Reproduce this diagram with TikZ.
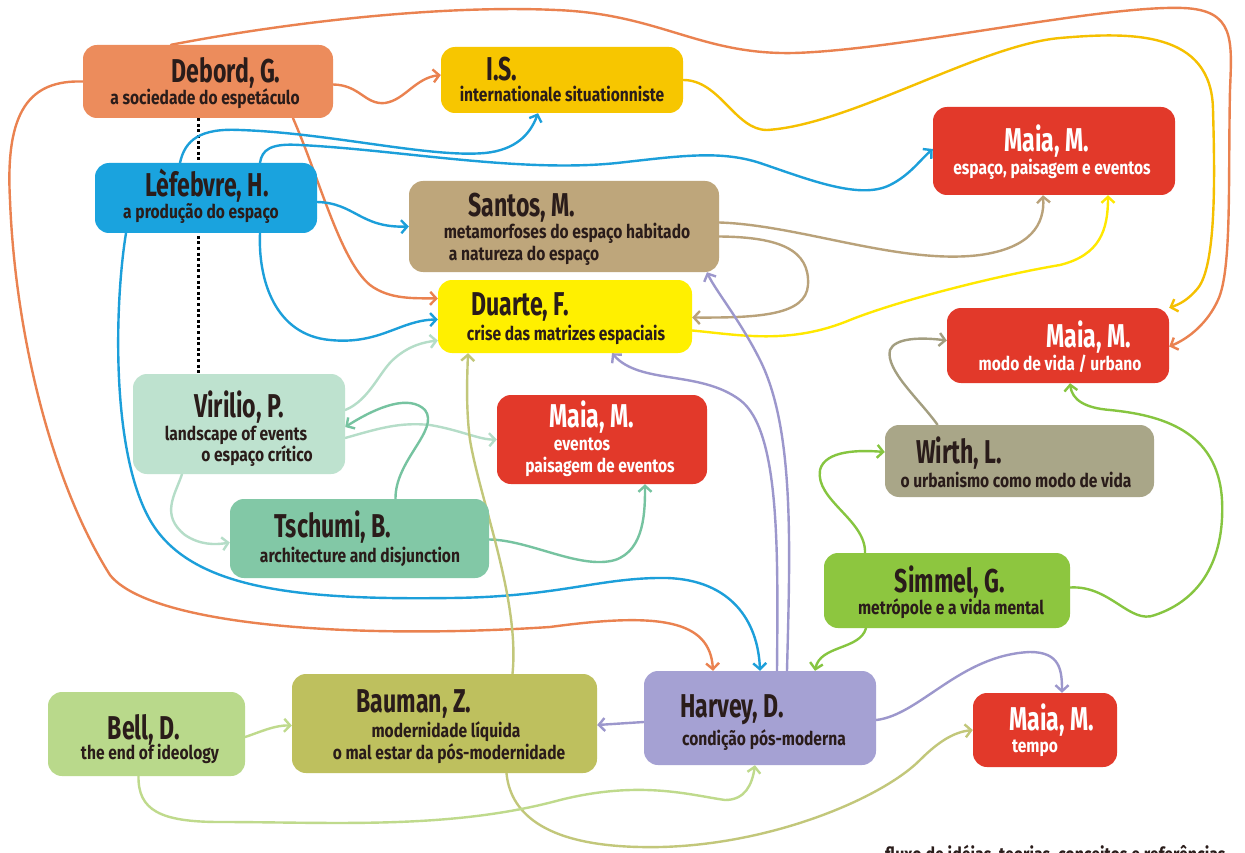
\documentclass[tikz,border=0pt]{standalone}
\usepackage{fontspec}
\setmainfont{Fira Sans}
\newfontfamily\titlefont{Fira Sans}[FakeStretch=0.70]
\newfontfamily\subfont{Fira Sans}[FakeStretch=0.82]
\usetikzlibrary{arrows.meta}
\definecolor{ink}{HTML}{2A1C1A}
\definecolor{cDebord}{HTML}{EC8C5C}
\definecolor{lDebord}{HTML}{EA8250}
\definecolor{cIS}{HTML}{F7C600}
\definecolor{lIS}{HTML}{F5C000}
\definecolor{cRed}{HTML}{E2392A}
\definecolor{cBlue}{HTML}{1AA3DE}
\definecolor{lBlue}{HTML}{1C9FDA}
\definecolor{cTan}{HTML}{BEA67B}
\definecolor{lTan}{HTML}{B9A27A}
\definecolor{cYellow}{HTML}{FFF000}
\definecolor{lYellow}{HTML}{FFE800}
\definecolor{cVir}{HTML}{BEE2CF}
\definecolor{lVir}{HTML}{B5DDC8}
\definecolor{cTsch}{HTML}{82C8A6}
\definecolor{lTsch}{HTML}{76C3A0}
\definecolor{cWirth}{HTML}{A9A688}
\definecolor{lWirth}{HTML}{A39E80}
\definecolor{cSim}{HTML}{8DC63F}
\definecolor{lSim}{HTML}{86C540}
\definecolor{cHar}{HTML}{A5A1D3}
\definecolor{lHar}{HTML}{9C97CC}
\definecolor{cBell}{HTML}{B9D98B}
\definecolor{lBell}{HTML}{BFDA8C}
\definecolor{cBau}{HTML}{BEC05E}
\definecolor{lBau}{HTML}{C2C77A}
\pgfdeclarelayer{bg}
\pgfsetlayers{bg,main}
\tikzset{
  box/.style={rounded corners=14pt, draw=none, inner sep=0pt},
  ttl/.style={font=\titlefont\bfseries\fontsize{33}{33}\selectfont, text=ink, inner sep=0pt, anchor=base},
  sub/.style={font=\subfont\bfseries\fontsize{19}{19}\selectfont, text=ink, inner sep=0pt, anchor=base},
  wht/.style={text=white},
  conn/.style={line width=2.4pt, line cap=round, -{Straight Barb[length=6pt,width=13pt]}},
  dotline/.style={line width=3pt, dash pattern=on 3pt off 2.6pt, black}
}
\begin{document}
\begin{tikzpicture}[x=1pt,y=-1pt]
\useasboundingbox (0,0) rectangle (1245,853);
\clip (0,0) rectangle (1245,853);

% boxes
\node[box, fill=cDebord, minimum width=250pt, minimum height=73pt] (debord) at (208,81.5) {};
\node[box, fill=cIS, minimum width=242pt, minimum height=66pt] (is) at (562,80) {};
\node[box, fill=cRed, minimum width=242pt, minimum height=88pt] (maiaE) at (1054,151) {};
\node[box, fill=cBlue, minimum width=222pt, minimum height=70pt] (lef) at (206,198) {};
\node[box, fill=cTan, minimum width=310pt, minimum height=91pt] (santos) at (564,226.5) {};
\node[box, fill=cYellow, minimum width=254pt, minimum height=73pt] (duarte) at (565,316.5) {};
\node[box, fill=cRed, minimum width=222pt, minimum height=75pt] (maiaM) at (1058,345.5) {};
\node[box, fill=cVir, minimum width=212pt, minimum height=100pt] (virilio) at (239,424) {};
\node[box, fill=cRed, minimum width=210pt, minimum height=89pt] (maiaEv) at (602,439.5) {};
\node[box, fill=cWirth, minimum width=269pt, minimum height=72pt] (wirth) at (1019.5,461) {};
\node[box, fill=cTsch, minimum width=259pt, minimum height=79pt] (tschumi) at (359.5,538.5) {};
\node[box, fill=cSim, minimum width=246pt, minimum height=75pt] (simmel) at (947,590.5) {};
\node[box, fill=cHar, minimum width=232pt, minimum height=94pt] (harvey) at (760,718) {};
\node[box, fill=cRed, minimum width=144pt, minimum height=74pt] (maiaT) at (1045,730) {};
\node[box, fill=cBell, minimum width=197pt, minimum height=84pt] (bell) at (146.5,734) {};
\node[box, fill=cBau, minimum width=305pt, minimum height=99pt] (bauman) at (444.5,723.5) {};

% texts
\node[ttl] (debordT) at (226,83) {Debord, G.};
\node[sub] (debordS) at (205,105) {a sociedade do espetáculo};
\node[ttl] (isT) at (502,81) {I.S.};
\node[sub] (isS) at (562,102) {internationale situationniste};
\node[ttl, wht] (maiaET) at (1047,152) {Maia, M.};
\node[sub, wht] (maiaES) at (1052,175) {espaço, paisagem e eventos};
\node[ttl] (lefT) at (207,197) {Lèfebvre, H.};
\node[sub] (lefS) at (201,219) {a produção do espaço};
\node[ttl] (santosT) at (522,217) {Santos, M.};
\node[sub] (santosS1) at (567,239) {metamorfoses do espaço habitado};
\node[sub] (santosS2) at (524,260) {a natureza do espaço};
\node[ttl] (duarteT) at (520,315) {Duarte, F.};
\node[sub] (duarteS) at (566,340) {crise das matrizes espaciais};
\node[ttl, wht] (maiaMT) at (1089,347) {Maia, M.};
\node[sub, wht] (maiaMS) at (1060,370) {modo de vida / urbano};
\node[ttl] (virT) at (239,417) {Virilio, P.};
\node[sub] (virS1) at (236,440) {landscape of events};
\node[sub] (virS2) at (257,461) {o espaço crítico};
\node[ttl, wht] (maiaEvT) at (592,427) {Maia, M.};
\node[sub, wht] (maiaEvS1) at (582,450) {eventos};
\node[sub, wht] (maiaEvS2) at (600,472) {paisagem de eventos};
\node[ttl] (tschT) at (333,537) {Tschumi, B.};
\node[sub] (tschS) at (360,562) {architecture and disjunction};
\node[ttl] (wirthT) at (959,463) {Wirth, L.};
\node[sub] (wirthS) at (1016,487) {o urbanismo como modo de vida};
\node[ttl] (simT) at (950,592) {Simmel, G.};
\node[sub] (simS) at (951,614) {metrópole e a vida mental};
\node[ttl] (harT) at (732,717) {Harvey, D.};
\node[sub] (harS) at (764,745) {condição pós-moderna};
\node[ttl, wht] (maiaTT) at (1052,730) {Maia, M.};
\node[sub, wht] (maiaTS) at (1035,752) {tempo};
\node[ttl] (bellT) at (144,739) {Bell, D.};
\node[sub] (bellS) at (150,759) {the end of ideology};
\node[ttl] (bauT) at (414,712) {Bauman, Z.};
\node[sub] (bauS1) at (446,737) {modernidade líquida};
\node[sub] (bauS2) at (449,759) {o mal estar da pós-modernidade};
\node[sub, anchor=north west, font=\subfont\bfseries\fontsize{19.5}{19.5}\selectfont] (legend) at (885,845) {fluxo de idéias, teorias, conceitos e referências};

\begin{pgfonlayer}{bg}
\fill[white] (0,0) rectangle (1245,853);
% dotted link
\draw[dotline] ([xshift=-10pt]debord.south) -- ([xshift=-41pt]virilio.north);
% orange (Debord)
\draw[conn, lDebord] ([xshift=-37pt]debord.north) .. controls (300,20) and (450,5) .. (556,10)
  .. controls (660,14) and (700,55) .. (794,53)
  .. controls (900,50) and (1100,5) .. (1183,8)
  .. controls (1235,10) and (1232,40) .. (1230,90)
  .. controls (1228,180) and (1232,270) .. (1218,300)
  .. controls (1208,322) and (1190,338) .. ([yshift=-1pt]maiaM.east);
\draw[conn, lDebord] (debord.west) .. controls (30,80) and (5,110) .. (10,200)
  .. controls (15,330) and (50,480) .. (110,575)
  .. controls (150,625) and (350,640) .. (550,627)
  .. controls (660,612) and (710,620) .. ([xshift=-47pt]harvey.north);
\draw[conn, lDebord] ([xshift=85pt]debord.south) .. controls (320,180) and (340,260) .. (370,285)
  .. controls (390,300) and (415,298) .. ([yshift=18pt]duarte.west);
\draw[conn, lDebord] ([yshift=-3pt]debord.east) .. controls (360,85) and (365,105) .. (385,103)
  .. controls (405,100) and (415,78) .. ([yshift=5pt]is.west);
% gold (I.S.)
\draw[conn, lIS] (is.east) .. controls (720,80) and (735,130) .. (767,130)
  .. controls (850,125) and (980,45) .. (1060,38)
  .. controls (1130,32) and (1212,30) .. (1213,110)
  .. controls (1215,180) and (1216,265) .. (1198,288)
  .. controls (1188,300) and (1180,304) .. (maiaM.north east);
% blue (Lefebvre)
\draw[conn, lBlue] ([xshift=-26pt]lef.north) .. controls (185,140) and (200,128) .. (240,130)
  .. controls (330,133) and (430,158) .. (485,153)
  .. controls (515,150) and (530,135) .. ([xshift=-24pt]is.south);
\draw[conn, lBlue] ([xshift=54pt]lef.north) .. controls (262,150) and (270,143) .. (300,145)
  .. controls (400,150) and (520,173) .. (617,163)
  .. controls (680,156) and (720,150) .. (760,163)
  .. controls (810,180) and (860,200) .. (890,185)
  .. controls (910,175) and (920,160) .. ([yshift=2pt]maiaE.west);
\draw[conn, lBlue] ([yshift=-4pt]lef.east) .. controls (355,203) and (360,228) .. (santos.west);
\draw[conn, lBlue] ([xshift=54pt]lef.south) .. controls (258,280) and (275,335) .. (330,340)
  .. controls (380,345) and (400,320) .. ([yshift=-3pt]duarte.west);
\draw[conn, lBlue] ([xshift=-80pt]lef.south) .. controls (115,300) and (110,450) .. (150,520)
  .. controls (190,590) and (300,600) .. (450,598)
  .. controls (560,597) and (600,577) .. (667,578)
  .. controls (730,580) and (758,620) .. (harvey.north);
% tan (Santos)
\draw[conn, lTan] ([yshift=4pt]santos.east) .. controls (800,225) and (900,265) .. (980,255)
  .. controls (1030,248) and (1045,225) .. ([xshift=-11pt]maiaE.south);
\draw[conn, lTan] ([yshift=-10pt]santos.east) .. controls (780,237) and (810,250) .. (808,285)
  .. controls (806,315) and (760,318) .. ([yshift=-1pt]duarte.east);
% yellow (Duarte)
\draw[conn, lYellow] ([yshift=-14pt]duarte.east) .. controls (740,335) and (790,345) .. (850,320)
  .. controls (900,300) and (1000,275) .. (1060,265)
  .. controls (1100,255) and (1108,230) .. ([xshift=54pt]maiaE.south);
% Wirth
\draw[conn, lWirth] ([xshift=-82pt]wirth.north) .. controls (920,400) and (885,370) .. (890,350)
  .. controls (895,338) and (920,337) .. ([yshift=5pt]maiaM.west);
% lavender (Harvey)
\draw[conn, lHar] ([xshift=27pt]harvey.north) .. controls (790,550) and (795,430) .. (760,360)
  .. controls (740,320) and (715,290) .. ([xshift=143pt]santos.south);
\draw[conn, lHar] ([xshift=17pt]harvey.north) .. controls (778,550) and (780,430) .. (740,400)
  .. controls (700,370) and (640,385) .. ([xshift=47pt]duarte.south);
\draw[conn, lHar] ([yshift=-4pt]harvey.west) -- ([yshift=-1.5pt]bauman.east);
\draw[conn, lHar] ([yshift=-2pt]harvey.east) .. controls (920,715) and (960,655) .. (1030,652)
  .. controls (1060,652) and (1062,670) .. ([xshift=17pt]maiaT.north);
% green (Simmel)
\draw[conn, lSim] ([xshift=-82pt]simmel.north) .. controls (866,520) and (815,500) .. (820,470)
  .. controls (825,450) and (860,450) .. ([yshift=9pt]wirth.west);
\draw[conn, lSim] ([yshift=3pt]simmel.east) .. controls (1110,585) and (1130,625) .. (1155,615)
  .. controls (1200,600) and (1225,560) .. (1222,500)
  .. controls (1218,430) and (1160,415) .. (1110,410)
  .. controls (1085,408) and (1072,400) .. ([xshift=12pt]maiaM.south);
\draw[conn, lSim] ([xshift=-81pt]simmel.south) .. controls (860,650) and (820,645) .. ([xshift=55pt]harvey.north);
% mint (Virilio)
\draw[conn, lVir] ([yshift=14pt]virilio.east) .. controls (370,400) and (380,370) .. (395,358)
  .. controls (410,345) and (425,342) .. ([yshift=-24pt]duarte.west);
\draw[conn, lVir] ([yshift=-14pt]virilio.east) .. controls (380,428) and (400,422) .. (430,425)
  .. controls (460,430) and (480,440) .. (maiaEv.west);
\draw[conn, lVir] ([xshift=-57pt]virilio.south) .. controls (175,495) and (160,515) .. (185,535)
  .. controls (200,545) and (215,545) .. ([yshift=-4pt]tschumi.west);
% teal (Tschumi)
\draw[conn, lTsch] ([xshift=36pt]tschumi.north) .. controls (395,460) and (440,430) .. (425,410)
  .. controls (410,395) and (380,405) .. ([yshift=-3pt]virilio.east);
\draw[conn, lTsch] ([yshift=-1pt]tschumi.east) .. controls (530,540) and (580,570) .. (615,560)
  .. controls (645,550) and (645,510) .. ([xshift=43pt]maiaEv.south);
% olive (Bauman)
\draw[conn, lBau] ([xshift=68pt]bauman.north) .. controls (520,600) and (480,500) .. (470,440)
  .. controls (466,410) and (467,380) .. ([xshift=-97pt]duarte.south);
\draw[conn, lBau] ([xshift=62pt]bauman.south) .. controls (510,810) and (540,845) .. (640,847)
  .. controls (760,850) and (880,800) .. (920,760)
  .. controls (940,740) and (955,732) .. (maiaT.west);
% light green (Bell)
\draw[conn, lBell] ([yshift=-3pt]bell.east) .. controls (260,732) and (275,725) .. ([yshift=-2pt]bauman.west);
\draw[conn, lBell] ([xshift=-8pt]bell.south) .. controls (138,810) and (160,822) .. (220,822)
  .. controls (330,822) and (450,830) .. (560,800)
  .. controls (640,780) and (690,795) .. (725,800)
  .. controls (745,800) and (752,785) .. ([xshift=-5pt]harvey.south);
\end{pgfonlayer}
\end{tikzpicture}
\end{document}
